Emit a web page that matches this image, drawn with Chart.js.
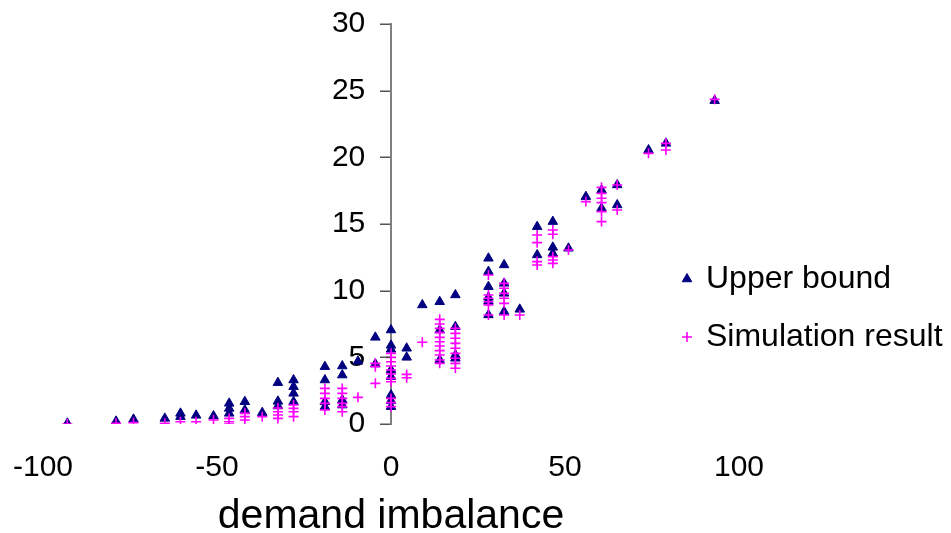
<!DOCTYPE html>
<html>
<head>
<meta charset="utf-8">
<script src="https://cdn.jsdelivr.net/npm/chart.js@4.4.0/dist/chart.umd.min.js"></script>
<style>
  html, body { margin: 0; padding: 0; background: #fff; }
  canvas { display: block; }
</style>
</head>
<body>
<canvas id="chart" width="951" height="533"></canvas>
<script>
// Upper bound (triangles)
const upperX = [
  -93, -79, -74, -65, -60.5, -60.5, -56, -51,
  -46.5, -46.5, -46.5, -42, -42, -37,
  -32.5, -32.5, -32.5, -28, -28, -28, -28,
  -19, -19, -19, -19, -14, -14, -14, -14,
  -9.5, -4.5, -4.5,
  0, 0, 0, 0, 0, 0, 0, 0,
  4.5, 4.5, 9, 14, 14, 14,
  18.5, 18.5, 18.5, 18.5,
  28, 28, 28, 28, 28, 28,
  32.5, 32.5, 32.5, 32.5, 37,
  42, 42, 46.5, 46.5, 46.5, 51, 56,
  60.5, 60.5, 65, 65, 74, 79, 93
];
const upperY = [
  0.05, 0.2, 0.35, 0.42, 0.8, 0.55, 0.65, 0.6,
  1.55, 1.17, 0.8, 1.67, 1.05, 0.85,
  3.1, 1.7, 1.35, 3.3, 2.8, 2.3, 1.67,
  4.3, 3.3, 1.67, 1.3, 4.35, 3.67, 1.8, 1.42,
  4.7, 6.5, 4.5,
  7.05, 5.9, 5.6, 4.05, 3.55, 2.17, 1.75, 1.3,
  5.68, 5.0, 8.93, 9.17, 7.05, 4.8,
  9.68, 7.3, 5.17, 4.93,
  12.43, 11.43, 10.3, 9.5, 9.2, 8.18,
  11.93, 10.55, 9.8, 8.43, 8.6,
  14.8, 12.68, 15.18, 13.25, 12.8, 13.18, 17.05,
  17.55, 16.18, 17.93, 16.43, 20.55, 21.05, 24.25
];

// Simulation result (crosses)
const simX = [
  -93, -79, -74, -65, -60.5, -56, -51,
  -46.5, -46.5, -46.5, -42, -42, -42, -37,
  -32.5, -32.5, -32.5, -32.5, -28, -28, -28, -28,
  -19, -19, -19, -19, -19,
  -14, -14, -14, -14, -14, -14,
  -9.5, -4.5, -4.5, -4.5,
  0, 0, 0, 0, 0, 0, 0, 0, 0, 0, 0,
  4.5, 4.5, 9,
  14, 14, 14, 14, 14, 14, 14, 14, 14, 14, 14,
  18.5, 18.5, 18.5, 18.5, 18.5, 18.5, 18.5, 18.5, 18.5,
  28, 28, 28, 28, 28, 28,
  32.5, 32.5, 32.5, 32.5, 32.5, 32.5, 37,
  42, 42, 42, 42, 46.5, 46.5, 46.5, 46.5, 46.5, 51, 56,
  60.5, 60.5, 60.5, 60.5, 60.5, 60.5, 65, 65,
  74, 79, 79, 93
];
const simY = [
  0.0, 0.05, 0.1, 0.05, 0.17, 0.17, 0.3,
  0.42, 0.17, 0.0, 0.8, 0.55, 0.3, 0.55,
  1.2, 0.92, 0.67, 0.42, 1.42, 1.17, 0.92, 0.55,
  2.67, 2.3, 1.92, 1.55, 1.05,
  2.67, 2.3, 1.92, 1.55, 1.3, 0.92,
  2.0, 4.55, 4.3, 3.05,
  5.3, 5.0, 4.67, 4.35, 4.05, 3.75, 3.42, 3.17, 1.92, 1.6, 1.3,
  3.72, 3.47, 6.13,
  7.85, 7.5, 7.17, 6.85, 6.5, 6.17, 5.85, 5.5, 5.17, 4.8, 4.55,
  7.17, 6.8, 6.43, 6.05, 5.68, 5.3, 4.93, 4.55, 4.18,
  11.18, 9.68, 9.43, 9.17, 8.93, 8.18,
  10.55, 10.18, 9.8, 9.43, 9.05, 8.18, 8.18,
  14.18, 13.6, 12.18, 11.93, 14.55, 14.23, 12.55, 12.3, 12.05, 13.05, 16.68,
  17.75, 17.3, 16.93, 16.6, 15.93, 15.18, 17.93, 16.05,
  20.3, 21.05, 20.55, 24.35
];

const xTicks = [-100, -50, 0, 50, 100];
const yTicks = [0, 5, 10, 15, 20, 25, 30];
const seriesNames = ['Upper bound', 'Simulation result'];
const xTitle = 'demand imbalance';

const FONT = "'Liberation Sans', Arial, sans-serif";
const AXIS_GREY = '#808080';
const TICK_GREY = '#555';
const Y_MIN = yTicks[0];
const Y_MAX = yTicks[yTicks.length - 1];
const Y_STEP = yTicks[1] - yTicks[0];

function toPoints(xs, ys) {
  return xs.map((x, i) => ({ x: x, y: ys[i] }));
}

// keep label overflow from nudging the plot area
function noPadding(scale) {
  scale.paddingLeft = 0;
  scale.paddingRight = 0;
  scale.paddingTop = 0;
  scale.paddingBottom = 0;
}

// short outward tick marks on the vertical axis that crosses at zero
const axisTicks = {
  id: 'axisTicks',
  afterDraw(chart) {
    const xs = chart.scales.x;
    const ys = chart.scales.y;
    const ctx = chart.ctx;
    const x0 = Math.round(xs.getPixelForValue(0)) - 1;
    ctx.save();
    ctx.strokeStyle = TICK_GREY;
    ctx.lineWidth = 1.5;
    ctx.beginPath();
    yTicks.forEach((v) => {
      const y = Math.round(ys.getPixelForValue(v)) + 0.25;
      ctx.moveTo(x0, y);
      ctx.lineTo(x0 - 10, y);
    });
    ctx.stroke();
    ctx.restore();
  }
};

// legend sits to the right of the plot, outside the axes
const sideLegend = {
  id: 'sideLegend',
  afterDraw(chart) {
    const ctx = chart.ctx;
    const rows = [279, 337];
    ctx.save();
    ctx.font = '32px ' + FONT;
    ctx.textBaseline = 'middle';
    ctx.fillStyle = '#000';
    chart.data.datasets.forEach((ds) => {
      const y = rows[ds.legendRow];
      ctx.save();
      ctx.fillStyle = ds.backgroundColor;
      ctx.strokeStyle = ds.borderColor;
      ctx.lineWidth = ds.borderWidth;
      Chart.helpers.drawPoint(ctx, {
        pointStyle: ds.pointStyle,
        radius: ds.pointRadius,
        rotation: 0,
        borderWidth: ds.borderWidth
      }, 687, y);
      ctx.restore();
      ctx.fillText(ds.label, 706, y);
    });
    ctx.restore();
  }
};

const ctx = document.getElementById('chart').getContext('2d');

new Chart(ctx, {
  type: 'scatter',
  data: {
    datasets: [
      {
        label: seriesNames[0],
        data: toPoints(upperX, upperY),
        pointStyle: 'triangle',
        pointRadius: 5.5,
        backgroundColor: '#000080',
        borderColor: '#000080',
        borderWidth: 1,
        order: 2,
        legendRow: 0
      },
      {
        label: seriesNames[1],
        data: toPoints(simX, simY),
        pointStyle: 'cross',
        pointRadius: 5,
        backgroundColor: '#ff00ff',
        borderColor: '#ff00ff',
        borderWidth: 1.6,
        order: 1,
        legendRow: 1
      }
    ]
  },
  options: {
    responsive: false,
    animation: false,
    layout: {
      padding: { left: 43, right: 212, top: 24, bottom: 0 }
    },
    plugins: {
      legend: { display: false },
      tooltip: { enabled: false }
    },
    scales: {
      x: {
        type: 'linear',
        position: 'bottom',
        min: -100,
        max: 100,
        afterBuildTicks: (scale) => { scale.ticks = xTicks.map(v => ({ value: v })); },
        afterFit: (scale) => { scale.height = 109; noPadding(scale); },
        grid: { display: false, drawTicks: false },
        border: { display: false },
        ticks: {
          color: '#000',
          padding: 26,
          maxRotation: 0,
          font: { family: FONT, size: 30 }
        },
        title: {
          display: true,
          text: xTitle,
          color: '#000',
          padding: 0,
          font: { family: FONT, size: 41, lineHeight: 0.8 }
        }
      },
      // vertical axis crossing at zero: just the line
      y: {
        type: 'linear',
        position: { x: 0 },
        min: Y_MIN,
        max: Y_MAX,
        grid: { display: false, drawTicks: false },
        border: { display: true, color: AXIS_GREY, width: 2 },
        ticks: { display: false, stepSize: Y_STEP }
      },
      // its numbers, set just left of the tick marks
      yLabels: {
        type: 'linear',
        position: { x: -7.4 },
        min: Y_MIN,
        max: Y_MAX,
        afterBuildTicks: (scale) => { scale.ticks = yTicks.map(v => ({ value: v })); },
        afterFit: noPadding,
        grid: { display: false, drawTicks: false },
        border: { display: false },
        ticks: {
          color: '#000',
          padding: 0,
          font: { family: FONT, size: 30 }
        }
      }
    }
  },
  plugins: [axisTicks, sideLegend]
});
</script>
</body>
</html>
